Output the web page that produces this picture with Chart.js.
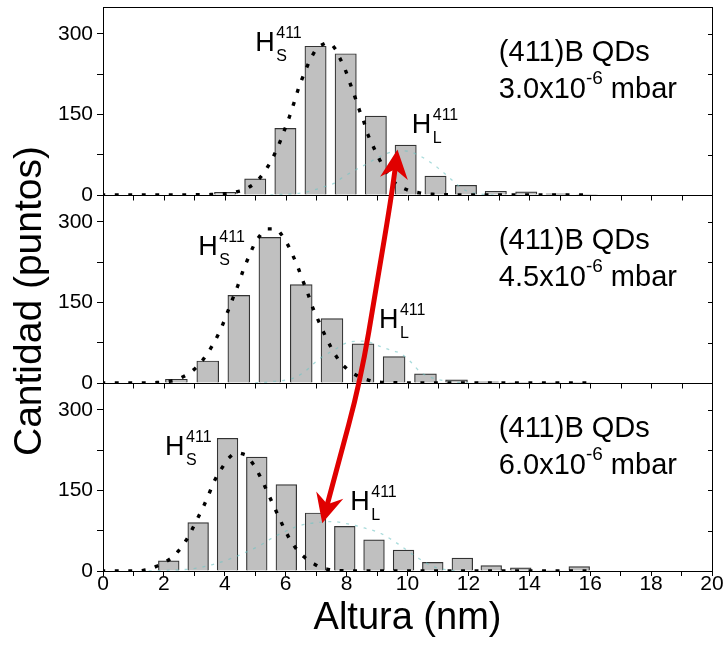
<!DOCTYPE html>
<html lang="es">
<head>
<meta charset="UTF-8">
<title>Altura de QDs (411)B</title>
<style>
    body { margin: 0; background: #fff; }
    #wrap { width: 725px; height: 648px; }
</style>
</head>
<body>
<div id="wrap"><canvas id="histChart" width="725" height="648"></canvas></div>
<script src="https://cdn.jsdelivr.net/npm/chart.js"></script>
<script>
// --- datos ---
// panel superior: 3.0x10^-6 mbar
const topBinX = [4.01, 5.0, 5.99, 6.98, 7.97, 8.96, 9.94, 10.92, 11.92, 12.9, 13.9, 14.9, 15.9];
const topCounts = [5, 30, 124, 277, 263, 147, 93, 35, 18, 7, 6, 2, 1];
// panel central: 4.5x10^-6 mbar
const midBinX = [2.41, 3.44, 4.46, 5.48, 6.51, 7.52, 8.54, 9.56, 10.59, 11.61, 12.63, 13.65, 14.67, 15.69];
const midCounts = [7, 41, 163, 271, 183, 120, 73, 49, 17, 6, 2, 1, 1, 1];
// panel inferior: 6.0x10^-6 mbar
const botBinX = [2.16, 3.125, 4.09, 5.05, 6.02, 6.98, 7.94, 8.9, 9.87, 10.83, 11.8, 12.75, 13.72, 14.68, 15.64];
const botCounts = [19, 90, 247, 212, 161, 108, 83, 58, 39, 16, 24, 10, 6, 1, 8];

// ajuste H_S (puntos negros)
const topFitX = [0, 1, 2, 3, 3.8, 4.32, 4.75, 5.09, 5.36, 5.59, 5.79, 5.96, 6.13, 6.28, 6.43, 6.6, 6.79, 6.99, 7.2, 7.41, 7.6, 7.73, 7.95, 8.12, 8.29, 8.44, 8.53, 8.67, 8.87, 9.08, 9.29, 9.6, 9.97, 10.5, 11, 12, 16];
const topFitY = [0, 0, 0, 0.5, 1.5, 5, 13, 28, 48, 71, 96, 121, 147, 173, 200, 225, 250, 270, 280, 283, 274, 260, 234, 207, 180, 155, 143, 117, 91, 66, 44, 22, 10, 3, 1, 0, 0];
const midFitX = [0, 1, 1.8, 2.4, 2.81, 3.15, 3.44, 3.7, 3.91, 4.09, 4.26, 4.44, 4.6, 4.78, 4.98, 5.24, 5.45, 5.64, 5.97, 6.19, 6.39, 6.56, 6.73, 6.89, 7.09, 7.29, 7.51, 7.78, 8.11, 8.52, 9.01, 9.58, 10.5, 16];
const midFitY = [0, 0, 1, 6, 17.5, 34, 56, 81, 106, 132, 157, 183, 209, 234, 259, 280, 287, 287, 267, 243, 217, 191, 166, 140, 114, 89, 64, 40, 22, 9, 2, 0.5, 0, 0];
const botFitX = [0, 1, 1.45, 1.88, 2.26, 2.6, 2.85, 3.08, 3.3, 3.49, 3.68, 3.92, 4.18, 4.4, 4.59, 4.92, 5.16, 5.36, 5.56, 5.77, 5.97, 6.2, 6.48, 6.82, 7.2, 7.66, 8.5, 16];
const botFitY = [0, 0, 2.5, 12, 25, 46, 69, 95, 120, 145, 170, 193, 213, 219, 218, 200, 176, 152, 127, 101, 77, 53, 33, 17, 6, 1, 0, 0];

// ajuste H_L (trazo tenue)
const topLX = [5.5, 6.64, 7.19, 7.6, 7.85, 8.3, 8.73, 9.03, 9.56, 9.9, 10.33, 10.87, 11.2, 11.86, 12.5, 13];
const topLY = [0, 5, 14, 22, 32, 47, 60, 70, 81, 82, 75, 56, 41, 10, 1, 0];
const midLX = [5.0, 5.6, 6.2, 6.6, 7.04, 7.6, 8.14, 8.6, 9.01, 9.5, 9.78, 10.11, 10.43, 10.9, 11.5, 12];
const midLY = [0, 3, 8, 20, 42, 62, 77, 78, 70, 60, 55, 39, 20, 8, 2, 0];
const botLX = [1.5, 2.0, 2.98, 3.6, 4.19, 5.17, 5.6, 6.0, 6.49, 7.0, 7.58, 8.0, 8.46, 9.12, 9.7, 10.22, 10.88, 11.5, 12];
const botLY = [0, 1, 4.5, 12, 23, 48, 63, 74, 85, 90, 92, 88, 82, 70, 50, 29, 7.5, 1, 0];

const xTicks = [0, 2, 4, 6, 8, 10, 12, 14, 16, 18, 20];
const yTicks = [0, 150, 300];

const FONT = '"Liberation Sans", Arial, Helvetica, sans-serif';

function pts(xs, ys) {
    return xs.map((x, i) => ({ x: x, y: ys[i] }));
}

function barSet(xs, ys, axis, thick) {
    return {
        type: 'bar', data: pts(xs, ys), yAxisID: axis, stack: 'all',
        backgroundColor: '#c0c0c0', borderColor: '#333', borderWidth: 1.2,
        barThickness: thick, order: 3
    };
}
function fitSet(xs, ys, axis) {
    return {
        type: 'line', data: pts(xs, ys), yAxisID: axis,
        borderColor: '#000', borderWidth: 3.4, borderDash: [0.5, 13], borderCapStyle: 'square',
        pointRadius: 0, cubicInterpolationMode: 'monotone', fill: false, order: 1
    };
}
function lSet(xs, ys, axis) {
    return {
        type: 'line', data: pts(xs, ys), yAxisID: axis,
        borderColor: 'rgba(110,195,195,0.6)', borderWidth: 1.3, borderDash: [3, 6],
        pointRadius: 0, cubicInterpolationMode: 'monotone', fill: false, order: 2
    };
}

function yAxis(weight) {
    return {
        type: 'linear', position: 'left', stack: 'panels', stackWeight: 1, weight: weight,
        min: 0, max: 350,
        ticks: {
            stepSize: 75, includeBounds: false, padding: 4, color: '#000',
            font: { family: FONT, size: 21, lineHeight: 1 },
            callback: v => yTicks.includes(v) ? v : ''
        },
        grid: { display: true, drawOnChartArea: false, drawTicks: true, tickLength: 6, tickColor: '#000' },
        border: { display: true, color: '#000', width: 1 },
        afterFit: s => { s.width = 103; s.paddingTop = 0; s.paddingBottom = 0; }
    };
}

// textos de cada panel, en coordenadas de datos
const panelText = [
    { axis: 'yTop', p: '3.0', hs: [5.0, 268], hl: [10.14, 116] },
    { axis: 'yMid', p: '4.5', hs: [3.13, 239], hl: [9.06, 102] },
    { axis: 'yBot', p: '6.0', hs: [2.04, 216], hl: [8.12, 113] }
];
// flecha roja (eje, x, y)
const arrowPath = [['yTop', 9.67, 84.5], ['yTop', 9.51, 10], ['yMid', 8.99, 183], ['yMid', 8.46, 5], ['yBot', 7.67, 188], ['yBot', 7.2, 89]];

function hLabel(ctx, x, y, main, sub, sup) {
    ctx.font = '27px ' + FONT;
    ctx.fillText(main, x, y);
    const w = ctx.measureText(main).width;
    ctx.font = '16px ' + FONT;
    ctx.fillText(sup, x + w + 1.5, y - 13);
    ctx.fillText(sub, x + w + 1.5, y + 10);
}

function arrowHead(ctx, tip, from) {
    let dx = tip.x - from.x, dy = tip.y - from.y;
    const d = Math.hypot(dx, dy); dx /= d; dy /= d;
    const L = 29, W = 14;
    const bx = tip.x - dx * L, by = tip.y - dy * L;
    ctx.beginPath();
    ctx.moveTo(tip.x, tip.y);
    ctx.lineTo(bx - dy * W, by + dx * W);
    ctx.lineTo(tip.x - dx * L * 0.68, tip.y - dy * L * 0.68);
    ctx.lineTo(bx + dy * W, by - dx * W);
    ctx.closePath();
    ctx.fill();
}

const decor = {
    id: 'decor',
    afterDraw(chart) {
        const { ctx, chartArea: a, scales } = chart;
        const x = scales.x;
        const al = v => Math.round(v) + 0.5;
        ctx.save();
        ctx.strokeStyle = '#000';
        ctx.lineWidth = 1;
        ctx.strokeRect(al(a.left), al(a.top), Math.round(a.right - a.left), Math.round(a.bottom - a.top));
        ctx.beginPath();
        ['yTop', 'yMid'].forEach(id => {
            const yb = al(scales[id].bottom);
            ctx.moveTo(a.left, yb); ctx.lineTo(a.right, yb);
            x.ticks.forEach(t => {
                const px = al(x.getPixelForValue(t.value));
                ctx.moveTo(px, yb); ctx.lineTo(px, yb + 5);
            });
        });
        ['yTop', 'yMid', 'yBot'].forEach(id => {
            const s = scales[id];
            s.ticks.forEach(t => {
                if (t.value === 0) return;
                const py = al(s.getPixelForValue(t.value));
                ctx.moveTo(a.right, py); ctx.lineTo(a.right - 4, py);
            });
        });
        ctx.stroke();

        // etiquetas
        ctx.fillStyle = '#000';
        ctx.textAlign = 'left';
        ctx.textBaseline = 'alphabetic';
        panelText.forEach(pt => {
            const s = scales[pt.axis];
            hLabel(ctx, x.getPixelForValue(pt.hs[0]), s.getPixelForValue(pt.hs[1]), 'H', 'S', '411');
            hLabel(ctx, x.getPixelForValue(pt.hl[0]), s.getPixelForValue(pt.hl[1]), 'H', 'L', '411');
            const tx = x.getPixelForValue(13.0);
            ctx.font = '29px ' + FONT;
            ctx.fillText('(411)B QDs', tx, s.getPixelForValue(249));
            const y2 = s.getPixelForValue(180);
            const base = pt.p + 'x10';
            ctx.fillText(base, tx, y2);
            let cx = tx + ctx.measureText(base).width;
            ctx.font = '19px ' + FONT;
            ctx.fillText('-6', cx, y2 - 14);
            cx += ctx.measureText('-6').width;
            ctx.font = '29px ' + FONT;
            ctx.fillText(' mbar', cx, y2);
        });

        // titulo eje y
        ctx.save();
        ctx.translate(30, 301);
        ctx.rotate(-Math.PI / 2);
        ctx.font = '39px ' + FONT;
        ctx.textAlign = 'center';
        ctx.textBaseline = 'middle';
        ctx.fillText('Cantidad (puntos)', 0, 0);
        ctx.restore();

        // flecha doble
        const P = arrowPath.map(p => ({ x: x.getPixelForValue(p[1]), y: scales[p[0]].getPixelForValue(p[2]) }));
        const n = P.length;
        const shrink = (tip, from, k) => {
            const dx = tip.x - from.x, dy = tip.y - from.y, d = Math.hypot(dx, dy);
            return { x: tip.x - dx / d * k, y: tip.y - dy / d * k };
        };
        const L0 = shrink(P[0], P[1], 16), L1 = shrink(P[n - 1], P[n - 2], 16);
        ctx.strokeStyle = '#e00000';
        ctx.fillStyle = '#e00000';
        ctx.lineWidth = 5;
        ctx.lineCap = 'round';
        ctx.lineJoin = 'round';
        ctx.beginPath();
        ctx.moveTo(L0.x, L0.y);
        for (let i = 1; i < n - 2; i++) {
            const mx = (P[i].x + P[i + 1].x) / 2, my = (P[i].y + P[i + 1].y) / 2;
            ctx.quadraticCurveTo(P[i].x, P[i].y, mx, my);
        }
        ctx.quadraticCurveTo(P[n - 2].x, P[n - 2].y, L1.x, L1.y);
        ctx.stroke();
        arrowHead(ctx, P[0], P[1]);
        arrowHead(ctx, P[n - 1], P[n - 2]);
        ctx.restore();
    }
};

const ctx = document.getElementById('histChart').getContext('2d');
const chart = new Chart(ctx, {
    data: {
        datasets: [
            barSet(topBinX, topCounts, 'yTop', 21.3),
            barSet(midBinX, midCounts, 'yMid', 21.9),
            barSet(botBinX, botCounts, 'yBot', 20.7),
            lSet(topLX, topLY, 'yTop'),
            lSet(midLX, midLY, 'yMid'),
            lSet(botLX, botLY, 'yBot'),
            fitSet(topFitX, topFitY, 'yTop'),
            fitSet(midFitX, midFitY, 'yMid'),
            fitSet(botFitX, botFitY, 'yBot')
        ]
    },
    options: {
        responsive: false,
        animation: false,
        devicePixelRatio: 1,
        layout: { padding: { top: 7, right: 13, left: 0, bottom: 0 } },
        plugins: { legend: { display: false }, tooltip: { enabled: false } },
        scales: {
            x: {
                type: 'linear', position: 'bottom', min: 0, max: 20, offset: false,
                ticks: {
                    stepSize: 1, autoSkip: false, maxRotation: 0, padding: -2, color: '#000',
                    font: { family: FONT, size: 21, lineHeight: 1 },
                    callback: v => xTicks.includes(v) ? v : ''
                },
                grid: { display: true, drawOnChartArea: false, drawTicks: true, tickLength: 5, tickColor: '#000', offset: false },
                border: { display: true, color: '#000', width: 1 },
                title: {
                    display: true, text: 'Altura (nm)', color: '#000',
                    font: { family: FONT, size: 38, lineHeight: 1 },
                    padding: { top: 0, bottom: 10 }
                },
                afterFit: s => { s.height = 77; s.paddingLeft = 0; s.paddingRight = 0; }
            },
            yBot: yAxis(1),
            yMid: yAxis(2),
            yTop: yAxis(3)
        }
    },
    plugins: [decor]
});
</script>
</body>
</html>
